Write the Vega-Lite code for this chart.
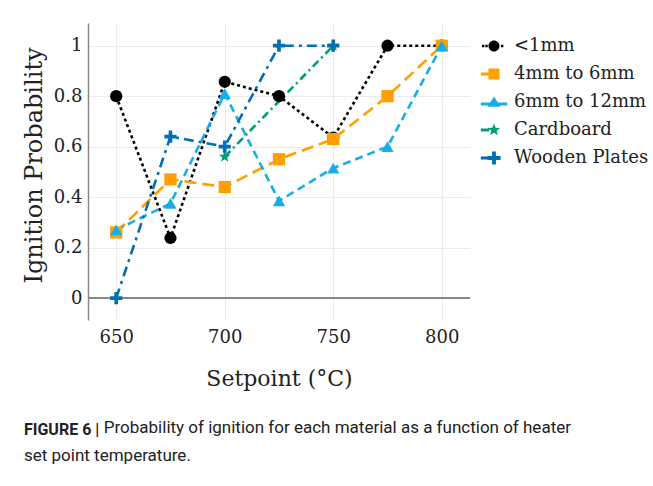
{
  "$schema": "https://vega.github.io/schema/vega-lite/v6.json",
  "width": 382,
  "height": 297,
  "autosize": {"type": "none"},
  "padding": {"left": 88, "top": 23, "right": 183, "bottom": 166},
  "background": "white",
  "data": {"values": [
    {"series": "<1mm", "setpoint": 650, "p": 0.80},
    {"series": "<1mm", "setpoint": 675, "p": 0.238},
    {"series": "<1mm", "setpoint": 700, "p": 0.857},
    {"series": "<1mm", "setpoint": 725, "p": 0.80},
    {"series": "<1mm", "setpoint": 750, "p": 0.636},
    {"series": "<1mm", "setpoint": 775, "p": 1.0},
    {"series": "<1mm", "setpoint": 800, "p": 1.0},
    {"series": "4mm to 6mm", "setpoint": 650, "p": 0.26},
    {"series": "4mm to 6mm", "setpoint": 675, "p": 0.47},
    {"series": "4mm to 6mm", "setpoint": 700, "p": 0.44},
    {"series": "4mm to 6mm", "setpoint": 725, "p": 0.55},
    {"series": "4mm to 6mm", "setpoint": 750, "p": 0.63},
    {"series": "4mm to 6mm", "setpoint": 775, "p": 0.80},
    {"series": "4mm to 6mm", "setpoint": 800, "p": 1.0},
    {"series": "6mm to 12mm", "setpoint": 650, "p": 0.27},
    {"series": "6mm to 12mm", "setpoint": 675, "p": 0.375},
    {"series": "6mm to 12mm", "setpoint": 700, "p": 0.81},
    {"series": "6mm to 12mm", "setpoint": 725, "p": 0.385},
    {"series": "6mm to 12mm", "setpoint": 750, "p": 0.515},
    {"series": "6mm to 12mm", "setpoint": 775, "p": 0.60},
    {"series": "6mm to 12mm", "setpoint": 800, "p": 1.0},
    {"series": "Cardboard", "setpoint": 700, "p": 0.56},
    {"series": "Cardboard", "setpoint": 750, "p": 1.0},
    {"series": "Wooden Plates", "setpoint": 650, "p": 0.0},
    {"series": "Wooden Plates", "setpoint": 675, "p": 0.64},
    {"series": "Wooden Plates", "setpoint": 700, "p": 0.60},
    {"series": "Wooden Plates", "setpoint": 725, "p": 1.0},
    {"series": "Wooden Plates", "setpoint": 750, "p": 1.0}
  ]},
  "title": {
    "text": "FIGURE 6 |",
    "subtitle": ["\u200B\u2003\u2003\u2003\u2003\u2009\u2009\u2009Probability of ignition for each material as a function of heater", "set point temperature."],
    "orient": "bottom",
    "anchor": "start",
    "frame": "group",
    "dx": -64,
    "offset": 33,
    "font": "Roboto",
    "fontSize": 16,
    "fontWeight": "bold",
    "color": "#222222",
    "subtitleFont": "Roboto",
    "subtitleFontSize": 17,
    "subtitleFontWeight": "normal",
    "subtitleColor": "#222222",
    "subtitleLineHeight": 28,
    "subtitlePadding": -18
  },
  "encoding": {
    "x": {
      "field": "setpoint", "type": "quantitative",
      "scale": {"domain": [637, 813], "nice": false, "zero": false},
      "axis": {
        "title": "Setpoint (°C)", "values": [650, 700, 750, 800],
        "domain": false, "ticks": false, "grid": true, "gridColor": "#ececec",
        "labelFont": "DejaVu Serif", "labelFontSize": 18, "labelColor": "#222222", "labelPadding": 8,
        "titleFont": "DejaVu Serif", "titleFontSize": 22, "titleFontWeight": "normal", "titleColor": "#222222", "titlePadding": 22
      }
    },
    "y": {
      "field": "p", "type": "quantitative",
      "scale": {"domain": [-0.087, 1.09], "nice": false, "zero": false},
      "axis": {
        "title": "Ignition Probability", "values": [0, 0.2, 0.4, 0.6, 0.8, 1], "format": "~g",
        "domain": true, "domainColor": "#888888", "domainWidth": 1.5, "ticks": false, "grid": true, "gridColor": "#ececec",
        "labelFont": "DejaVu Serif", "labelFontSize": 18, "labelColor": "#222222", "labelPadding": 6,
        "titleFont": "DejaVu Serif", "titleFontSize": 24, "titleFontWeight": "normal", "titleColor": "#222222", "titlePadding": 7, "titleY": 142
      }
    }
  },
  "layer": [
    {
      "mark": {"type": "rule", "color": "#888888", "strokeWidth": 1.5},
      "encoding": {"y": {"datum": 0}, "x": null}
    },
    {
      "mark": {"type": "line", "strokeWidth": 2.6},
      "encoding": {
        "color": {"field": "series", "type": "nominal", "legend": null,
          "scale": {"domain": ["<1mm", "4mm to 6mm", "6mm to 12mm", "Cardboard", "Wooden Plates"],
                    "range": ["#000000", "#FF9F00", "#17ADE8", "#009E73", "#0070B5"]}},
        "strokeDash": {"field": "series", "type": "nominal", "legend": null,
          "scale": {"domain": ["<1mm", "4mm to 6mm", "6mm to 12mm", "Cardboard", "Wooden Plates"],
                    "range": [[3, 3], [12, 6], [8, 5], [8, 4, 2, 4], [10, 5, 3, 5]]}}
      }
    },
    {
      "mark": {"type": "point", "filled": true, "opacity": 1, "strokeWidth": 0},
      "encoding": {
        "color": {"field": "series", "type": "nominal", "legend": null,
          "scale": {"domain": ["<1mm", "4mm to 6mm", "6mm to 12mm", "Cardboard", "Wooden Plates"],
                    "range": ["#000000", "#FF9F00", "#17ADE8", "#009E73", "#0070B5"]}},
        "shape": {"field": "series", "type": "nominal", "legend": null,
          "scale": {"domain": ["<1mm", "4mm to 6mm", "6mm to 12mm", "Cardboard", "Wooden Plates"],
                    "range": ["circle", "square", "triangle-up",
                              "M0,-1L0.247,-0.34L0.951,-0.309L0.4,0.13L0.588,0.809L0,0.42L-0.588,0.809L-0.4,0.13L-0.951,-0.309L-0.247,-0.34Z",
                              "M-0.3,-1H0.3V-0.3H1V0.3H0.3V1H-0.3V0.3H-1V-0.3H-0.3Z"]}},
        "size": {"field": "series", "type": "nominal", "legend": null,
          "scale": {"domain": ["<1mm", "4mm to 6mm", "6mm to 12mm", "Cardboard", "Wooden Plates"],
                    "range": [150, 150, 150, 300, 220]}}
      }
    },
    {
      "transform": [{"filter": "datum.series == 'none'"}],
      "mark": {"type": "point", "filled": true, "opacity": 1, "strokeWidth": 0},
      "encoding": {
        "color": {"field": "series", "type": "nominal",
          "scale": {"domain": ["<1mm", "4mm to 6mm", "6mm to 12mm", "Cardboard", "Wooden Plates"],
                    "range": ["#000000", "#FF9F00", "#17ADE8", "#009E73", "#0070B5"]},
          "legend": {"title": null, "orient": "none", "legendX": 394, "legendY": 11, "padding": 0,
                     "symbolSize": 576, "symbolStrokeWidth": 0, "labelOffset": 8, "rowPadding": 7,
                     "labelFont": "DejaVu Serif", "labelFontSize": 18, "labelColor": "#222222"}},
        "shape": {"field": "series", "type": "nominal",
          "scale": {"domain": ["<1mm", "4mm to 6mm", "6mm to 12mm", "Cardboard", "Wooden Plates"],
                    "range": [
                      "M-1,-0.1H-0.8V0.1H-1Z M-0.72,-0.1H-0.52V0.1H-0.72Z M0.58,-0.1H0.78V0.1H0.58Z M-0.46,0A0.46,0.46 0 1,0 0.46,0A0.46,0.46 0 1,0 -0.46,0Z",
                      "M-1.1,-0.12H-0.46V0.12H-1.1Z M-0.46,-0.46H0.46V0.46H-0.46Z",
                      "M-1.1,0.05H1.1V0.29H-1.1Z M0,-0.46L0.55,0.4H-0.55Z",
                      "M-1.1,-0.12H-0.4V0.12H-1.1Z M0,-0.55L0.136,-0.187L0.523,-0.17L0.22,0.072L0.323,0.445L0,0.231L-0.323,0.445L-0.22,0.072L-0.523,-0.17L-0.136,-0.187Z",
                      "M-1.1,-0.12H-0.55V0.12H-1.1Z M-0.16,-0.55H0.16V-0.16H0.55V0.16H0.16V0.55H-0.16V0.16H-0.55V-0.16H-0.16Z"
                    ]},
          "legend": {"title": null, "orient": "none", "legendX": 394, "legendY": 11, "padding": 0,
                     "symbolSize": 576, "symbolStrokeWidth": 0, "labelOffset": 8, "rowPadding": 7,
                     "labelFont": "DejaVu Serif", "labelFontSize": 18, "labelColor": "#222222"}}
      }
    }
  ],
  "resolve": {"scale": {"color": "independent", "shape": "independent", "size": "independent"}},
  "config": {"view": {"stroke": null}}
}
